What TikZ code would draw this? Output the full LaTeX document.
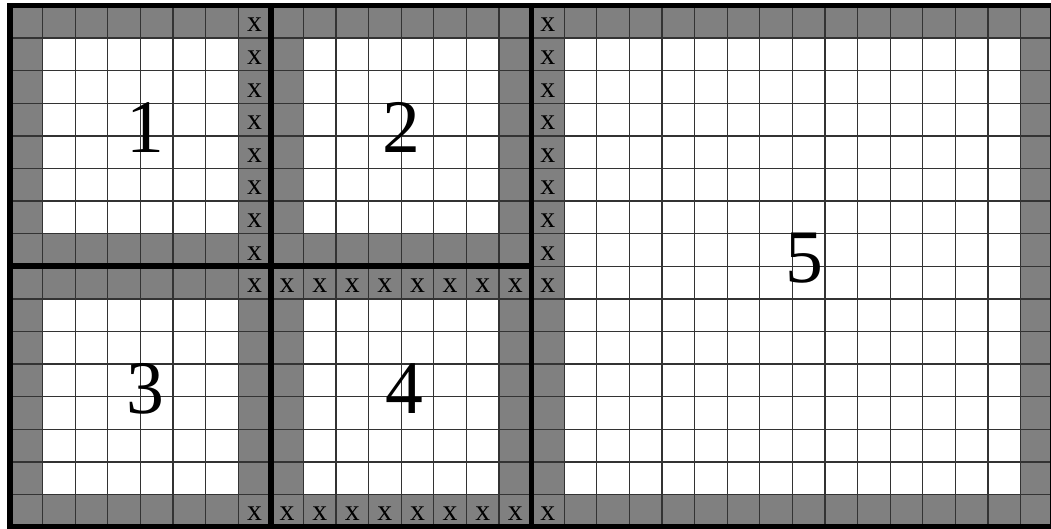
\documentclass[tikz,border=0pt]{standalone}
\usepackage{fontspec}
\setmainfont{Liberation Serif}
\begin{document}
\begin{tikzpicture}[x=1cm,y=-1cm,
  ring/.style={fill=gray},
  hole/.style={fill=white},
  gridline/.style={draw=black!80,line width=1.1pt},
  thick border/.style={draw=black,line width=5pt},
  xmark/.style={anchor=base,inner sep=0pt,font=\fontsize{26}{26}\selectfont},
  bignum/.style={anchor=base,inner sep=0pt,font=\fontsize{66}{66}\selectfont}]
\useasboundingbox (-0.307,-0.169) rectangle (31.933,16.058);
% region fills
\fill[ring] (0,0) rectangle (32,16);
\fill[hole] (1,1) rectangle (7,7);
\fill[hole] (9,1) rectangle (15,7);
\fill[hole] (1,9) rectangle (7,15);
\fill[hole] (9,9) rectangle (15,15);
\fill[hole] (17,1) rectangle (31,15);
% grid
\foreach \c in {1,...,31} \draw[gridline] (\c,0) -- (\c,16);
\foreach \r in {1,...,15} \draw[gridline] (0,\r) -- (32,\r);
% thick lines
\draw[thick border] (0,0) rectangle (32,16);
\draw[thick border] (8,0) -- (8,16);
\draw[thick border] (16,0) -- (16,16);
\draw[thick border] (0,8) -- (16,8);
% x marks
\foreach \r in {0,...,8} {
  \node[xmark] (xa\r) at (7.5,\r+0.81) {x};
  \node[xmark] (xb\r) at (16.5,\r+0.81) {x};
}
\foreach \c in {8,...,15} {
  \node[xmark] (xc\c) at (\c+0.5,8.81) {x};
}
\foreach \c in {7,...,16} {
  \node[xmark] (xd\c) at (\c+0.5,15.81) {x};
}
% region numbers
\node[bignum] (r1) at (4.14,4.52) {1};
\node[bignum] (r2) at (12.02,4.52) {2};
\node[bignum] (r3) at (4.14,12.5) {3};
\node[bignum] (r4) at (12.1,12.5) {4};
\node[bignum] (r5) at (24.36,8.5) {5};
\end{tikzpicture}
\end{document}
